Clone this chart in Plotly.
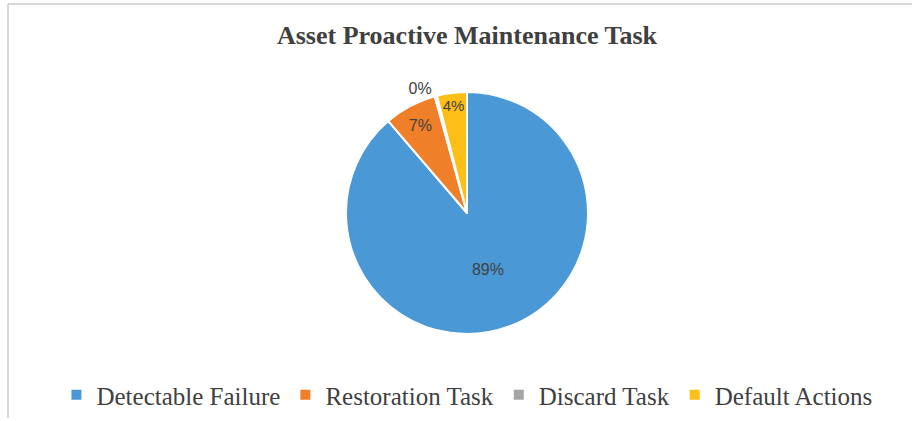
import plotly.graph_objects as go

categories = ["Detectable Failure", "Restoration Task", "Discard Task", "Default Actions"]
values = [89, 7, 0.3, 4]
labels_text = ["89%", "7%", "0%", "4%"]
colors = ["#4A98D6", "#F07F2A", "#A5A5A5", "#FDBE18"]

W, H = 912, 421
cx, cy, r = 467, 213, 121

fig = go.Figure(go.Pie(
    labels=categories,
    values=values,
    text=labels_text,
    textinfo="text",
    textposition=["inside", "inside", "outside", "inside"],
    insidetextorientation="horizontal",
    textfont=dict(family="Liberation Sans, Arial, sans-serif", size=16, color="#404040"),
    marker=dict(colors=colors, line=dict(color="white", width=2)),
    sort=False,
    direction="clockwise",
    rotation=0,
    hole=0,
    domain=dict(x=[(cx - r) / W, (cx + r) / W], y=[1 - (cy + r) / H, 1 - (cy - r) / H]),
))

fig.update_layout(
    width=W, height=H,
    margin=dict(l=0, r=0, t=0, b=0),
    paper_bgcolor="white",
    title=dict(text="<b>Asset Proactive Maintenance Task</b>", x=467 / W, xanchor="center",
               y=1 - 35 / H, yanchor="middle",
               font=dict(family="Liberation Serif, Times New Roman, serif", size=26, color="#404040")),
    showlegend=True,
    legend=dict(orientation="h", x=0.512, xanchor="center", y=1 - 395 / H, yanchor="middle",
                font=dict(family="Liberation Serif, Times New Roman, serif", size=25, color="#404040"),
                itemwidth=30, traceorder="normal"),
    shapes=[
        dict(type="line", xref="paper", yref="paper", x0=8 / W, x1=1, y0=1 - 4 / H, y1=1 - 4 / H,
             line=dict(color="#C8C8C8", width=1.5)),
        dict(type="line", xref="paper", yref="paper", x0=8 / W, x1=8 / W, y0=1 - 4 / H, y1=1 - 418 / H,
             line=dict(color="#C8C8C8", width=1.5)),
    ],
)

fig.write_html("out.html", config={"displayModeBar": False},
               post_script="document.body.style.margin='0px';")
